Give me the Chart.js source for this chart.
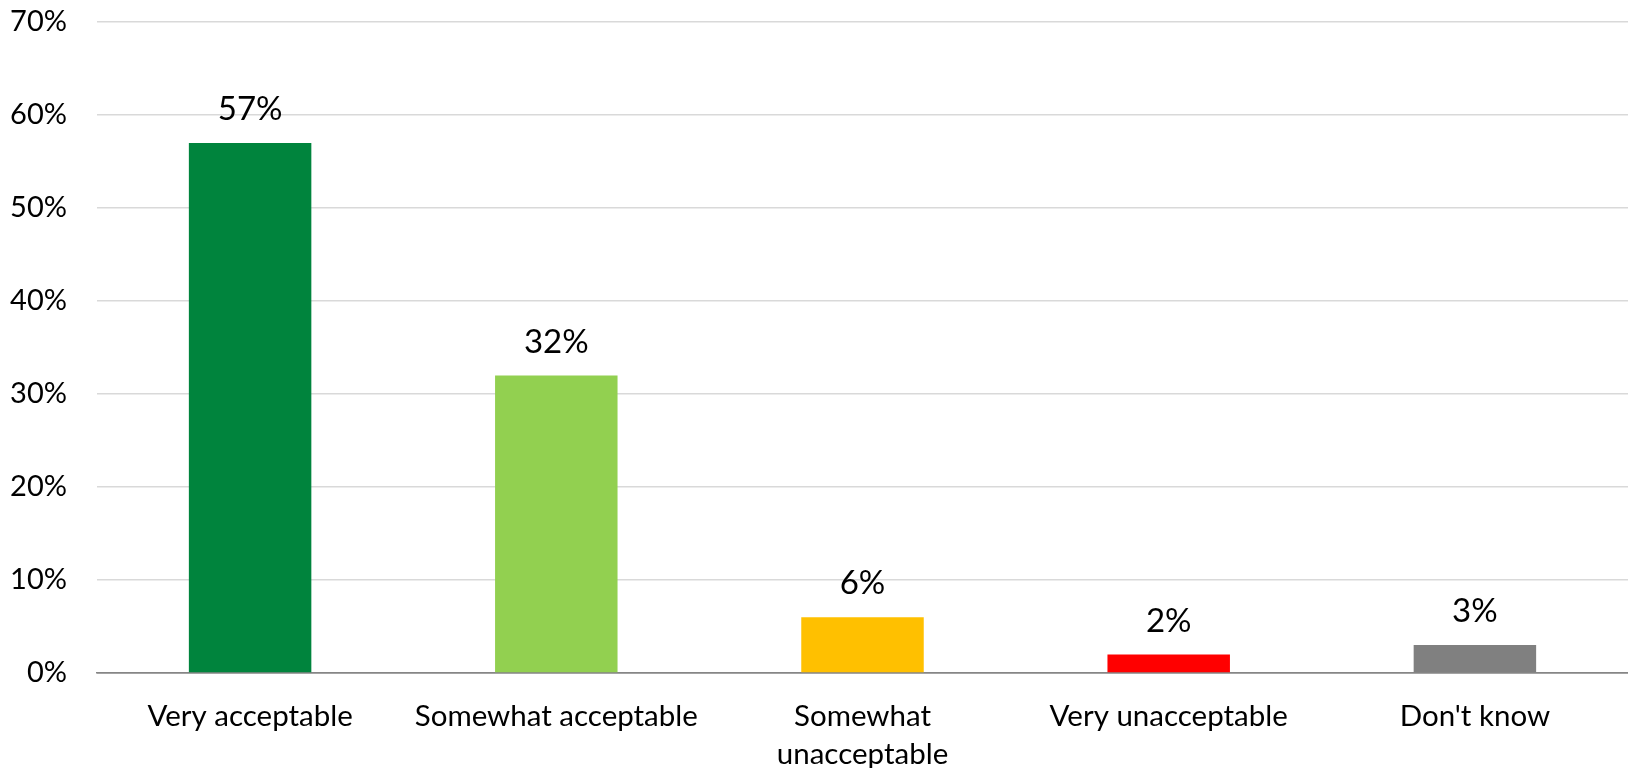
<!DOCTYPE html>
<html>
<head>
<meta charset="utf-8">
<script src="https://cdn.jsdelivr.net/npm/chart.js@4"></script>
<style>
  html, body { margin: 0; padding: 0; background: #fff; }
  #wrap { width: 1628px; height: 768px; }
</style>
</head>
<body>
<div id="wrap"><canvas id="myChart"></canvas></div>
<script>
// survey answers and share of responses
const categories = ['Very acceptable', 'Somewhat acceptable', ['Somewhat', 'unacceptable'], 'Very unacceptable', "Don't know"];
const shares = [57, 32, 6, 2, 3];
const barColors = ['#00843D', '#92D050', '#FFC000', '#FF0000', '#808080'];
const yTicks = [0, 10, 20, 30, 40, 50, 60, 70];

const fontFamily = 'Lato, "Open Sans", sans-serif';

// puts the percentage above each bar
const valueLabels = {
  id: 'valueLabels',
  afterDatasetsDraw(chart) {
    const ctx = chart.ctx;
    const meta = chart.getDatasetMeta(0);
    ctx.save();
    ctx.font = '33px ' + fontFamily;
    ctx.fillStyle = '#000';
    ctx.textAlign = 'center';
    ctx.textBaseline = 'bottom';
    meta.data.forEach((bar, i) => {
      ctx.fillText(shares[i] + '%', bar.x, bar.y - 17);
    });
    ctx.restore();
  }
};

const ctx = document.getElementById('myChart');
new Chart(ctx, {
  type: 'bar',
  data: {
    labels: categories,
    datasets: [{
      data: shares,
      backgroundColor: barColors,
      borderWidth: 0,
      categoryPercentage: 1,
      barPercentage: 0.4
    }]
  },
  options: {
    responsive: true,
    maintainAspectRatio: false,
    animation: false,
    layout: { padding: 0 },
    plugins: {
      legend: { display: false },
      tooltip: { enabled: false }
    },
    scales: {
      x: {
        grid: { display: false },
        border: { color: '#868686', width: 1.5 },
        ticks: {
          color: '#000',
          padding: 16,
          maxRotation: 0,
          autoSkip: false,
          font: { family: fontFamily, size: 29.5, lineHeight: 1.3 }
        },
        afterFit(scale) { scale.height = 95; }
      },
      y: {
        min: 0,
        max: 70,
        afterBuildTicks(scale) {
          scale.ticks = yTicks.map(v => ({ value: v }));
        },
        grid: {
          color: (c) => c.tick && c.tick.value === 0 ? '#868686' : '#D9D9D9',
          lineWidth: 1.5,
          drawTicks: false
        },
        border: { display: false },
        ticks: {
          color: '#000',
          padding: 30,
          font: { family: fontFamily, size: 29 },
          callback: (v) => v + '%'
        },
        afterFit(scale) {
          scale.width = 97;
          // tick padding would otherwise push the top gridline down
          scale.paddingTop = 22;
          scale.paddingBottom = 0;
        }
      }
    }
  },
  plugins: [valueLabels]
});
</script>
</body>
</html>
